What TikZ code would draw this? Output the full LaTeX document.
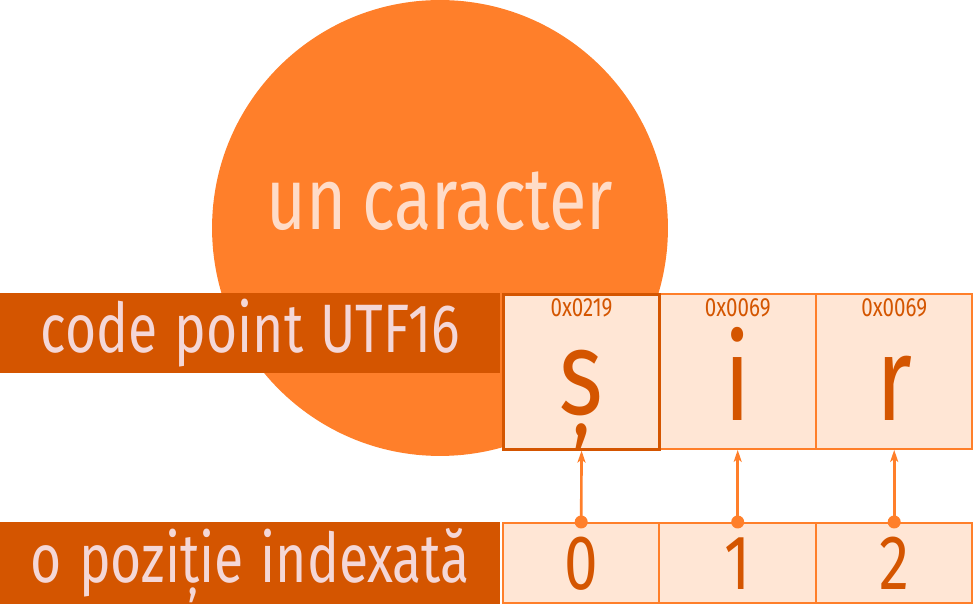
\documentclass[tikz,border=0pt]{standalone}
\usepackage{fontspec}
\setmainfont{Fira Sans}[FakeStretch=0.78]
\usetikzlibrary{arrows.meta}
\definecolor{SoftOrange}{HTML}{FF7F2A}
\definecolor{BurntOrange}{HTML}{D45500}
\definecolor{Peach}{HTML}{FFE6D5}
\definecolor{PaleRose}{HTML}{F4D7D7}
\definecolor{PaleApricot}{HTML}{FFDCC8}

\tikzset{
  bar/.style={fill=BurntOrange, text=PaleRose, anchor=north west,
    minimum width=10cm, minimum height=1.6cm,
    font={\fontsize{39}{39}\selectfont\spaceskip=0.25em\relax}},
  cell/.style={draw=SoftOrange, line width=1.1pt, fill=Peach, anchor=north west,
    minimum width=3.13cm, inner sep=0pt},
  hexlabel/.style={anchor=base, text=BurntOrange, font=\fontsize{15}{15}\selectfont},
  glyph/.style={anchor=base, text=BurntOrange, font=\fontsize{68}{68}\selectfont},
  digit/.style={anchor=base, text=BurntOrange, font=\fontsize{44}{44}\selectfont},
  link/.style={SoftOrange, line width=1.5pt, -{Stealth[length=0.24cm,width=0.16cm,inset=0.06cm]}}
}

\begin{document}
\begin{tikzpicture}[x=0.02cm,y=-0.02cm]
        \useasboundingbox (0,0) rectangle (975,604);

        % the big circle behind everything
        \node[circle, fill=SoftOrange, minimum size=9.12cm, inner sep=0pt] (charcircle) at (440,228) {};
        \node[anchor=base, text=PaleApricot, font={\fontsize{50}{50}\selectfont\spaceskip=0.18em\relax}] (chartext) at (440,230) {un caracter};

        % rows
        \node[bar] (utfbar) at (0,293) {code point UTF16\hspace{0.98cm}};
        \node[bar] (idxbar) at (0,522) {o poziție indexată};

        \node[cell, minimum height=3.1cm] (c2) at (658.5,293) {};
        \node[cell, minimum height=3.1cm] (c3) at (815,293) {};
        \node[cell, minimum height=3.1cm, draw=BurntOrange, line width=1.5pt] (c1) at (502,293) {};

        \node[cell, minimum height=1.6cm] (i1) at (502,522) {};
        \node[cell, minimum height=1.6cm] (i2) at (658.5,522) {};
        \node[cell, minimum height=1.6cm] (i3) at (815,522) {};

        \node[hexlabel] (h1) at (c1.north |- 0,317) {0x0219};
        \node[hexlabel] (h2) at (c2.north |- 0,317) {0x0069};
        \node[hexlabel] (h3) at (c3.north |- 0,317) {0x0069};

        \node[glyph] (g1) at (c1.north |- 0,415) {ș};
        \node[glyph] (g2) at (c2.north |- 0,421) {i};
        \node[glyph] (g3) at (c3.north |- 0,421) {r};

        \node[digit] (d1) at (i1.north |- 0,590) {0};
        \node[digit] (d2) at (i2.north |- 0,590) {1};
        \node[digit] (d3) at (i3.north |- 0,590) {2};

        % index -> character
        \foreach \k in {1,2,3} {
            \draw[link] (i\k.north) -- (c\k.south);
            \fill[SoftOrange] (i\k.north) circle (0.13cm);
        }
    \end{tikzpicture}
\end{document}
